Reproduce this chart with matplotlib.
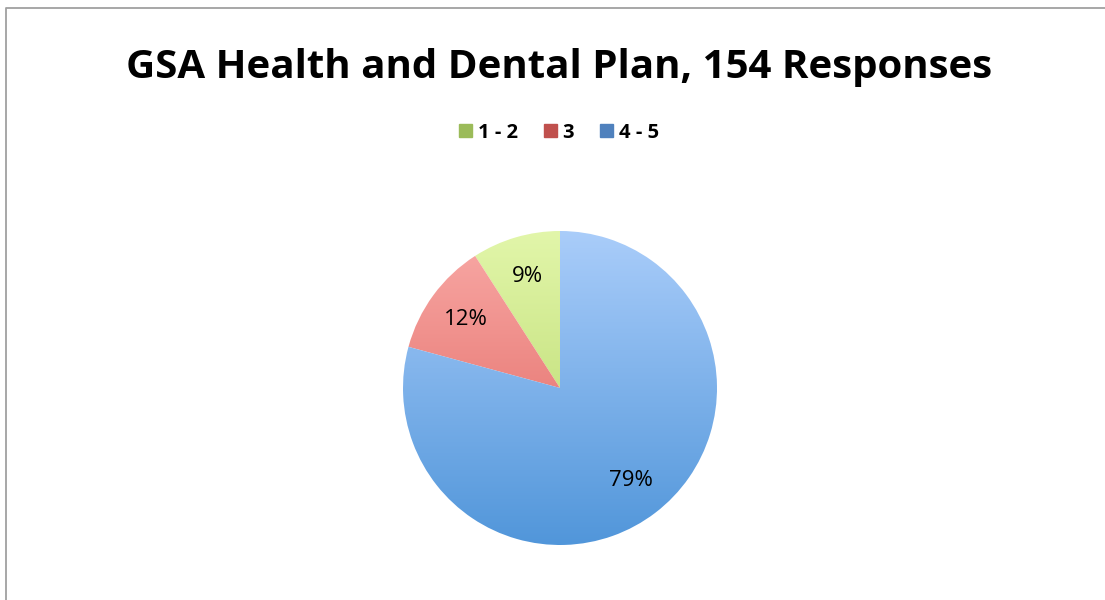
import numpy as np

import matplotlib
matplotlib.use("Agg")
import matplotlib.pyplot as plt
import matplotlib.patches as patches
from matplotlib.colors import LinearSegmentedColormap

# Datos de la encuesta
categorias = ["1 - 2", "3", "4 - 5"]
respuestas = [14, 18, 122]
titulo = "GSA Health and Dental Plan, 154 Responses"

# Colores: (arriba, abajo) para el degradado de cada sector, y color de la leyenda
degradados = [
    ("#e2f6aa", "#b2d462"),
    ("#f9aaa7", "#de5e58"),
    ("#aacdfa", "#5196da"),
]
colores_leyenda = ["#9bbb59", "#c0504d", "#4f81bd"]

plt.rcParams["font.family"] = ["Open Sans", "DejaVu Sans"]

fig = plt.figure(figsize=(11.05, 6.0), dpi=100)
fig.patch.set_facecolor("white")

# Marco del grafico (solo se ven el borde superior y el izquierdo)
marco = fig.add_axes([0, 0, 1, 1], facecolor="none")
marco.set_xlim(0, 1105)
marco.set_ylim(600, 0)
marco.axis("off")
marco.plot([5.5, 5.5, 1110], [610, 7.5, 7.5], color="#a0a0a0", lw=1.3)

fig.text(0.506, 0.887, titulo, ha="center", va="center",
         fontsize=29, fontweight="bold", color="black")

# Leyenda
handles = [patches.Patch(facecolor=c, edgecolor=c) for c in colores_leyenda]
leg = fig.legend(handles, categorias, loc="center", bbox_to_anchor=(0.506, 0.779),
                 ncol=3, frameon=False, handlelength=0.62, handleheight=0.62,
                 handletextpad=0.3, columnspacing=1.3,
                 prop={"weight": "bold", "size": 14.5})

# Pastel: centro (560, 388) px, radio 157 px
cx, cy, r_px = 560, 388, 157
half = 162
ax = fig.add_axes([(cx - half) / 1105, (600 - cy - half) / 600, 2 * half / 1105, 2 * half / 600])
lim = half / r_px

wedges, textos, autotextos = ax.pie(
    respuestas,
    startangle=90,
    counterclock=True,
    radius=1.0,
    autopct=lambda p: "{:.0f}%".format(p),
    pctdistance=0.74,
    wedgeprops={"linewidth": 0, "edgecolor": "none"},
    textprops={"fontsize": 16, "color": "black"},
    frame=True,
)
ax.set_xlim(-lim, lim)
ax.set_ylim(-lim, lim)
ax.axis("off")

# Relleno en degradado vertical recortado a cada sector
grad = np.linspace(1, 0, 256).reshape(-1, 1)
for w, (arriba, abajo) in zip(wedges, degradados):
    w.set_facecolor("none")
    cmap = LinearSegmentedColormap.from_list("deg", [abajo, arriba])
    im = ax.imshow(grad, cmap=cmap, extent=(-1, 1, -1, 1), origin="upper",
                   aspect="auto", zorder=0.5, interpolation="bilinear")
    im.set_clip_path(w)

for t in autotextos:
    t.set_zorder(5)

fig.savefig("out.png", dpi=100, facecolor="white")
